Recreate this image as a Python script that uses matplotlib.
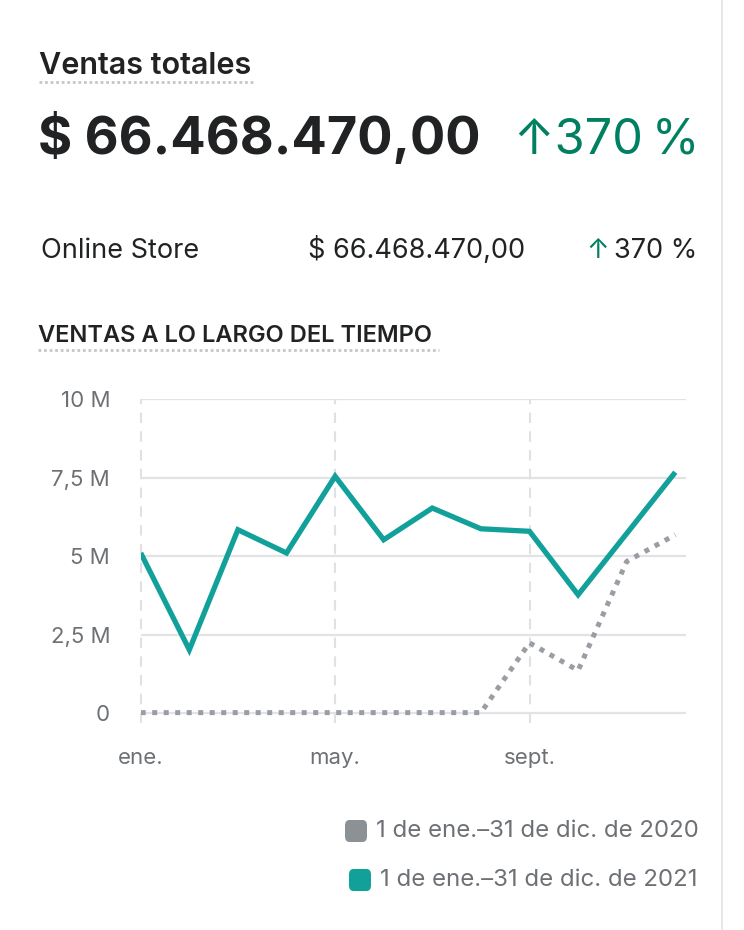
import matplotlib
matplotlib.use("Agg")
import matplotlib.pyplot as plt
from matplotlib.lines import Line2D
from matplotlib.patches import FancyBboxPatch

plt.rcParams['font.family'] = ['Inter', 'DejaVu Sans']

# datos (millones)
meses = ['ene.', 'feb.', 'mar.', 'abr.', 'may.', 'jun.', 'jul.', 'ago.', 'sept.', 'oct.', 'nov.', 'dic.']
ventas_2021 = [5.10, 2.02, 5.84, 5.10, 7.54, 5.52, 6.53, 5.87, 5.79, 3.77, 5.72, 7.67]
ventas_2020 = [0.02, 0.02, 0.02, 0.02, 0.02, 0.02, 0.02, 0.02, 2.24, 1.36, 4.83, 5.68]
yticks = [0, 2.5, 5, 7.5, 10]
ytick_labels = ['0', '2,5 M', '5 M', '7,5 M', '10 M']
xticks_idx = [0, 4, 8]
series_labels = ['1 de ene.–31 de dic. de 2020', '1 de ene.–31 de dic. de 2021']

TEAL = '#11a09a'
GRIS = '#9a9ea4'
OSCURO = '#202223'
SUAVE = '#6d7175'
VERDE = '#008060'

W, H = 744, 930
fig = plt.figure(figsize=(W / 100, H / 100), dpi=100)

def fx(px):
    return px / W

def fy(py):
    return 1 - py / H

# borde de la tarjeta
fig.add_artist(Line2D([fx(722), fx(722)], [0, 1], color='#e1e3e5', lw=1.2))

# cabecera
fig.text(fx(39), fy(73.5), 'Ventas totales', fontsize=22, fontweight='semibold',
         color=OSCURO, va='baseline', ha='left')
fig.add_artist(Line2D([fx(39), fx(254)], [fy(82), fy(82)], color='#c4c7ca',
                      lw=2, linestyle=(0, (1, 1))))
fig.text(fx(38), fy(154), '$ 66.468.470,00', fontsize=37.7, fontweight='bold',
         color=OSCURO, va='baseline', ha='left')
fig.text(fx(699), fy(154), '↑370\u2009%', fontsize=35, color=VERDE,
         va='baseline', ha='right')

fig.text(fx(41), fy(258), 'Online Store', fontsize=19.5, color=OSCURO, va='baseline', ha='left')
fig.text(fx(525), fy(258), '$ 66.468.470,00', fontsize=19.5, color=OSCURO, va='baseline', ha='right')
fig.text(fx(697), fy(258), '370 %', fontsize=19.5, color=OSCURO, va='baseline', ha='right')
fig.text(fx(586), fy(258), '↑', fontsize=19.5, color=VERDE, va='baseline', ha='left')

fig.text(fx(38), fy(341.7), 'VENTAS A LO LARGO DEL TIEMPO', fontsize=17,
         fontweight='semibold', color=OSCURO, va='baseline', ha='left')
fig.add_artist(Line2D([fx(38), fx(439)], [fy(350), fy(350)], color='#c4c7ca',
                      lw=2, linestyle=(0, (1, 1))))

# grafico
ax = fig.add_axes([fx(140.7), fy(723), fx(686) - fx(140.7), fy(399) - fy(723)])
x = list(range(len(meses)))
ax.set_xlim(0, 11.22)
ax.set_ylim(-0.31, 10)

for v in yticks:
    ax.axhline(v, color='#e1e3e5', lw=1.6, zorder=0)
for i in xticks_idx:
    ax.axvline(i, color='#dfe1e4', lw=1.5, linestyle=(0, (5, 4)), zorder=0, clip_on=False)

ax.plot(x, ventas_2020, color=GRIS, lw=3.6, linestyle=(0, (1, 1.3)),
        dash_capstyle='butt', zorder=2)
ax.plot(x, ventas_2021, color=TEAL, lw=3.8, solid_joinstyle='miter',
        solid_capstyle='butt', zorder=3)

ax.set_yticks(yticks)
ax.set_yticklabels(ytick_labels)
ax.set_xticks(xticks_idx)
ax.set_xticklabels([meses[i] for i in xticks_idx])
ax.tick_params(axis='y', length=0, pad=22, labelsize=16, labelcolor=SUAVE)
ax.tick_params(axis='x', length=0, pad=18, labelsize=16, labelcolor=SUAVE)
for s in ax.spines.values():
    s.set_visible(False)
ax.patch.set_alpha(0)

# leyenda
leyenda = [(345, 831, '#8c9196', series_labels[0], 376),
           (349, 880, TEAL, series_labels[1], 380)]
for px, py, col, txt, tx in leyenda:
    fig.add_artist(FancyBboxPatch((fx(px), fy(py + 11)), fx(22), fy(0) - fy(22),
                                  boxstyle='round,pad=0,rounding_size=0.006',
                                  facecolor=col, edgecolor='none',
                                  transform=fig.transFigure))
    fig.text(fx(tx), fy(py), txt, fontsize=17.3, color=SUAVE, va='center', ha='left')

fig.savefig('out.png', dpi=100, facecolor='white')
